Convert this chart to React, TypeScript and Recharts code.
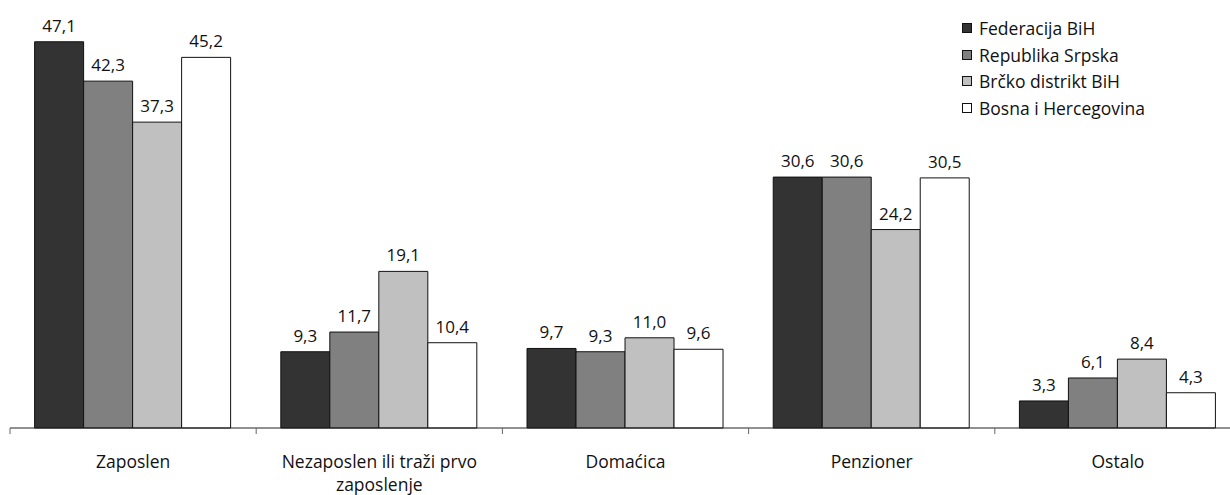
import { BarChart, Bar, XAxis, YAxis, Legend, LabelList } from "recharts";

const categories = ["Zaposlen", "Nezaposlen ili traži prvo zaposlenje", "Domaćica", "Penzioner", "Ostalo"];
const federacija = [47.1, 9.3, 9.7, 30.6, 3.3];
const republika = [42.3, 11.7, 9.3, 30.6, 6.1];
const brcko = [37.3, 19.1, 11.0, 24.2, 8.4];
const bih = [45.2, 10.4, 9.6, 30.5, 4.3];

const series = [
  { key: "fbih", name: "Federacija BiH", color: "#333333", values: federacija },
  { key: "rs", name: "Republika Srpska", color: "#808080", values: republika },
  { key: "bd", name: "Brčko distrikt BiH", color: "#c0c0c0", values: brcko },
  { key: "bih", name: "Bosna i Hercegovina", color: "#ffffff", values: bih },
];

const data = categories.map((c, i) => {
  const row: Record<string, string | number> = { kategorija: c };
  series.forEach((s) => (row[s.key] = s.values[i]));
  return row;
});

const FONT = "'Open Sans', 'Noto Sans', sans-serif";
const W = 1241;
const H = 495;
const LEFT = 10;
const BAND = (W - LEFT) / categories.length;

const fmt = (v: any) => Number(v).toFixed(1).replace(".", ",");

// category label + boundary tick at the left edge of each band
const CategoryTick = (props: any) => {
  const { x, y, payload } = props;
  const text: string = payload.value;
  const lines = text === "Nezaposlen ili traži prvo zaposlenje" ? ["Nezaposlen ili traži prvo", "zaposlenje"] : [text];
  return (
    <g>
      <line x1={x - BAND / 2} x2={x - BAND / 2} y1={y - 8} y2={y - 2} stroke="#666" strokeWidth={1} />
      {lines.map((l, i) => (
        <text key={i} x={x} y={y + 32 + i * 23} textAnchor="middle" fontSize={17.5} fill="#111" fontFamily={FONT}>
          {l}
        </text>
      ))}
    </g>
  );
};

const renderLegend = () => (
  <div style={{ fontFamily: FONT, fontSize: 17.5, color: "#111" }}>
    {series.map((s) => (
      <div key={s.key} style={{ display: "flex", alignItems: "center", height: 26.5 }}>
        <span style={{ width: 10, height: 10, background: s.color, border: "1px solid #111", marginRight: 7, boxSizing: "border-box" }} />
        {s.name}
      </div>
    ))}
  </div>
);

export default function App() {
  return (
    <div style={{ position: "absolute", left: 0, top: 0, width: 1230, height: H, overflow: "hidden", background: "#fff" }}>
      <BarChart width={W} height={H} data={data} margin={{ top: 18, right: 0, bottom: 0, left: LEFT }} barCategoryGap="10%" barGap={0}>
        <XAxis dataKey="kategorija" height={67} interval={0} tickLine={false} axisLine={{ stroke: "#222" }} tick={<CategoryTick />} />
        <YAxis hide width={0} domain={[0, 50]} />
        <Legend content={renderLegend} layout="horizontal" verticalAlign="middle" align="center" wrapperStyle={{ top: 15, left: 962, width: 260 }} />
        {series.map((s) => (
          <Bar key={s.key} dataKey={s.key} name={s.name} fill={s.color} stroke="#111" strokeWidth={1} isAnimationActive={false}>
            <LabelList dataKey={s.key} position="top" offset={10} formatter={fmt} fontSize={17} fill="#111" fontFamily={FONT} />
          </Bar>
        ))}
      </BarChart>
    </div>
  );
}
